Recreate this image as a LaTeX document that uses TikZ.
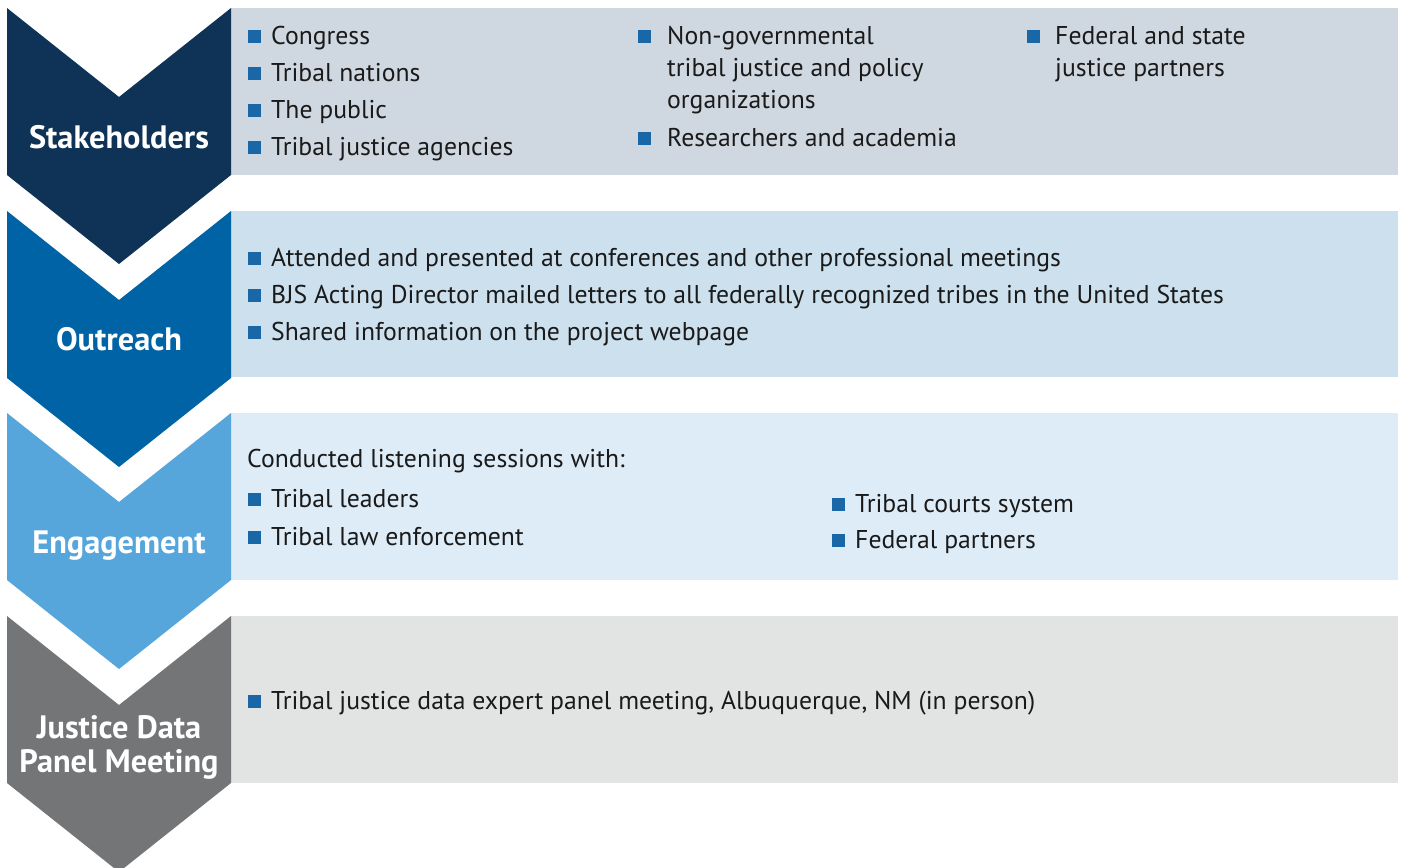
\documentclass[tikz,border=0pt]{standalone}
\usepackage{fontspec}
\setmainfont{PT Sans}
\definecolor{navy}{HTML}{0F3357}
\definecolor{outc}{HTML}{0063A6}
\definecolor{engc}{HTML}{56A6DB}
\definecolor{grayc}{HTML}{747577}
\definecolor{boxa}{HTML}{CFD8E0}
\definecolor{boxb}{HTML}{CCE0EE}
\definecolor{boxc}{HTML}{DDECF7}
\definecolor{boxd}{HTML}{E2E3E3}
\definecolor{bulc}{HTML}{1A67A8}
\definecolor{textc}{HTML}{1A1A1A}
\tikzset{
  txt/.style={anchor=base west, inner sep=0pt, font=\fontsize{25.8}{30}\selectfont, text=textc},
  lbl/.style={anchor=base, inner sep=0pt, align=center, font=\fontsize{32.5}{38}\selectfont\bfseries, text=white},
  bul/.style={fill=bulc, minimum size=12.5bp, inner sep=0pt, anchor=south west},
}
\newcommand{\chev}[2]{\fill[#2] (7,#1) -- (119,#1+89) -- (231,#1) -- (231,#1+167) -- (119,#1+256) -- (7,#1+167) -- cycle;}
\begin{document}
\begin{tikzpicture}[x=1bp,y=-1bp]
\useasboundingbox (0,0) rectangle (1403,867);
% boxes
\fill[boxa] (231,8) rectangle (1398,175);
\fill[boxb] (231,211) rectangle (1398,377);
\fill[boxc] (231,413) rectangle (1398,580);
\fill[boxd] (231,616) rectangle (1398,783);
% chevrons
\chev{8}{navy}
\chev{211}{outc}
\chev{413}{engc}
\chev{616}{grayc}
% labels
\node[lbl] (l1) at (119,148) {Stakeholders};
\node[lbl] (l2) at (119,350) {Outreach};
\node[lbl] (l3) at (119,553) {Engagement};
\node[lbl] (l4a) at (119,738) {Justice Data};
\node[lbl] (l4b) at (119,772) {Panel Meeting};
% box 1 col 1
\node[bul] (b11) at (248,43) {};  \node[txt] (t11) at (271,44) {Congress};
\node[bul] (b12) at (248,80) {};  \node[txt] (t12) at (271,81) {Tribal nations};
\node[bul] (b13) at (248,117) {}; \node[txt] (t13) at (271,118) {The public};
\node[bul] (b14) at (248,154) {}; \node[txt] (t14) at (271,155) {Tribal justice agencies};
% box 1 col 2
\node[bul] (b21) at (638,43) {};  \node[txt] (t21) at (667,44) {Non-governmental};
\node[txt] (t22) at (667,76) {tribal justice and policy};
\node[txt] (t23) at (667,108) {organizations};
\node[bul] (b24) at (638,145) {}; \node[txt] (t24) at (667,146) {Researchers and academia};
% box 1 col 3
\node[bul] (b31) at (1027,43) {}; \node[txt] (t31) at (1055,44) {Federal and state};
\node[txt] (t32) at (1055,76) {justice partners};
% box 2
\node[bul] (b41) at (248,265) {}; \node[txt] (t41) at (271,266) {Attended and presented at conferences and other professional meetings};
\node[bul] (b42) at (248,302) {}; \node[txt] (t42) at (271,303) {BJS Acting Director mailed letters to all federally recognized tribes in the United States};
\node[bul] (b43) at (248,339) {}; \node[txt] (t43) at (271,340) {Shared information on the project webpage};
% box 3
\node[txt] (t50) at (247,467) {Conducted listening sessions with:};
\node[bul] (b51) at (248,506) {}; \node[txt] (t51) at (271,507) {Tribal leaders};
\node[bul] (b52) at (248,544) {}; \node[txt] (t52) at (271,545) {Tribal law enforcement};
\node[bul] (b53) at (832,511) {}; \node[txt] (t53) at (855,512) {Tribal courts system};
\node[bul] (b54) at (832,547) {}; \node[txt] (t54) at (855,548) {Federal partners};
% box 4
\node[bul] (b61) at (248,708) {}; \node[txt] (t61) at (271,709) {Tribal justice data expert panel meeting, Albuquerque, NM (in person)};
\end{tikzpicture}
\end{document}
